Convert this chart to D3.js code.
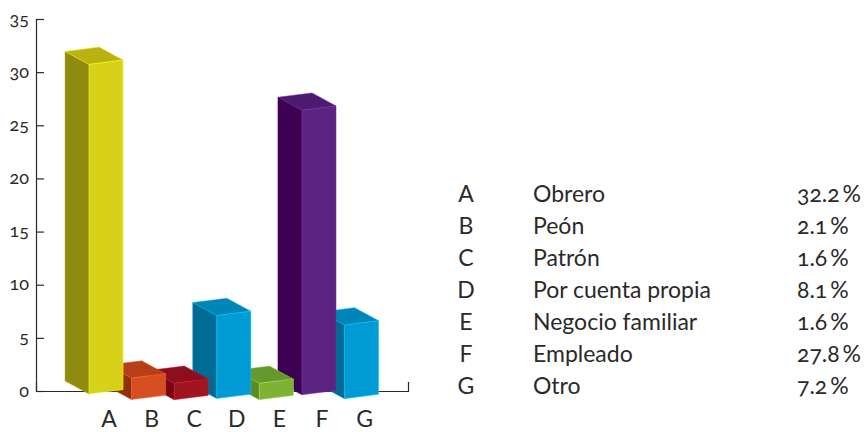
<!DOCTYPE html>
<html>
<head>
<meta charset="utf-8">
<script src="https://cdn.jsdelivr.net/npm/d3@7"></script>
<style>
  html, body { margin: 0; padding: 0; background: #fff; }
  text { font-family: Lato, sans-serif; fill: #2b2a29; font-feature-settings: "onum"; }
</style>
</head>
<body>
<div id="chart-area"></div>
<script>
// Data
var letters = ["A", "B", "C", "D", "E", "F", "G"];
var occupations = ["Obrero", "Peón", "Patrón", "Por cuenta propia", "Negocio familiar", "Empleado", "Otro"];
var percents = [32.2, 2.1, 1.6, 8.1, 1.6, 27.8, 7.2];
var yTicks = [0, 5, 10, 15, 20, 25, 30, 35];

// Bar colours
var frontColors = ["#d8d119", "#d54f22", "#a0151f", "#009bd5", "#7fb135", "#5b2480", "#009bd5"];
var sideColors = ["#8f8b0f", "#8f310c", "#770514", "#006b95", "#5d8a24", "#3d0052", "#006b95"];
var topColors = ["#b9b20f", "#b63f18", "#8d0f1b", "#0085b7", "#67982b", "#4e1a70", "#0085b7"];

var svg = d3.select("#chart-area").append("svg")
    .attr("width", 866)
    .attr("height", 432)
    .style("display", "block");

// Scales
var yAxisScale = d3.scaleLinear().domain([0, 35]).range([391, 19]);
var xAxisScale = d3.scaleLinear().domain([0, 1]).range([36, 408]);

var x = d3.scaleBand()
    .domain(letters)
    .range([89, 378.6])
    .paddingInner(0.2);

// the bars are drawn in perspective: top and foot both move with the value
var yTop = d3.scaleLinear().domain([0, 35]).range([400, 35.2]);
var yFoot = d3.scaleLinear().domain([0, 35]).range([400, 393.4]);

var depthX = -24, depthY = -13, slope = -4.3;

// Axes
var yAxis = d3.axisLeft(yAxisScale)
    .tickValues(yTicks)
    .tickSizeInner(-8)
    .tickSizeOuter(-8)
    .tickPadding(7);

var yAxisGroup = svg.append("g")
    .attr("class", "axis y-axis")
    .attr("transform", "translate(36,0)")
    .call(yAxis);

var baseAxis = d3.axisBottom(xAxisScale)
    .tickValues([])
    .tickSizeOuter(-9);

svg.append("g")
    .attr("class", "axis base-axis")
    .attr("transform", "translate(0,391)")
    .call(baseAxis);

svg.selectAll(".axis path, .axis line")
    .attr("stroke", "#2b2a29")
    .attr("stroke-width", 1.2);

yAxisGroup.selectAll("text")
    .attr("dy", "0.28em")
    .style("font-size", "18px")
    .attr("fill", "#2b2a29");

var xAxis = d3.axisBottom(x).tickSize(0).tickPadding(0);

var xAxisGroup = svg.append("g")
    .attr("class", "axis x-axis")
    .attr("transform", "translate(3,411)")
    .call(xAxis);

xAxisGroup.select(".domain").remove();
xAxisGroup.selectAll("text")
    .style("font-size", "23px")
    .attr("fill", "#2b2a29");

// Bars, last one first so each bar overlaps the one to its right
var line = d3.line();

function frontFace(d, i) {
    var l = x(letters[i]), w = x.bandwidth();
    return line([[l, yTop(d)], [l + w, yTop(d) + slope], [l + w, yFoot(d) + slope], [l, yFoot(d)]]) + "Z";
}

function sideFace(d, i) {
    var l = x(letters[i]);
    return line([[l, yTop(d)], [l + depthX, yTop(d) + depthY], [l + depthX, yFoot(d) + depthY], [l, yFoot(d)]]) + "Z";
}

function topFace(d, i) {
    var l = x(letters[i]), w = x.bandwidth(), t = yTop(d);
    return line([[l, t], [l + depthX, t + depthY], [l + depthX + w, t + depthY + slope], [l + w, t + slope]]) + "Z";
}

var barData = percents.map(function(d, i) { return {value: d, index: i}; }).reverse();

var bars = svg.append("g").attr("class", "bars")
    .selectAll("g")
    .data(barData)
    .enter()
    .append("g")
    .attr("class", "bar");

function addFace(faceFn, colors) {
    bars.append("path")
        .attr("d", function(d) { return faceFn(d.value, d.index); })
        .attr("fill", function(d) { return colors[d.index]; })
        .attr("stroke", function(d) { return d3.color(colors[d.index]).brighter(0.8); })
        .attr("stroke-width", 0.5)
        .attr("stroke-linejoin", "round");
}

addFace(sideFace, sideColors);
addFace(topFace, topColors);
addFace(frontFace, frontColors);

// Legend table
var rowY = d3.scalePoint().domain(letters).range([202, 394]);

var rows = svg.append("g").attr("class", "legend")
    .selectAll("g")
    .data(letters)
    .enter()
    .append("g")
    .attr("transform", function(d) { return "translate(0," + rowY(d) + ")"; })
    .style("font-size", "23px");

rows.append("text")
    .attr("x", 466)
    .attr("text-anchor", "middle")
    .text(function(d) { return d; });

rows.append("text")
    .attr("x", 533)
    .text(function(d, i) { return occupations[i]; });

rows.append("text")
    .attr("x", 797)
    .text(function(d, i) { return d3.format(".1f")(percents[i]) + "\u2009%"; });
</script>
</body>
</html>
